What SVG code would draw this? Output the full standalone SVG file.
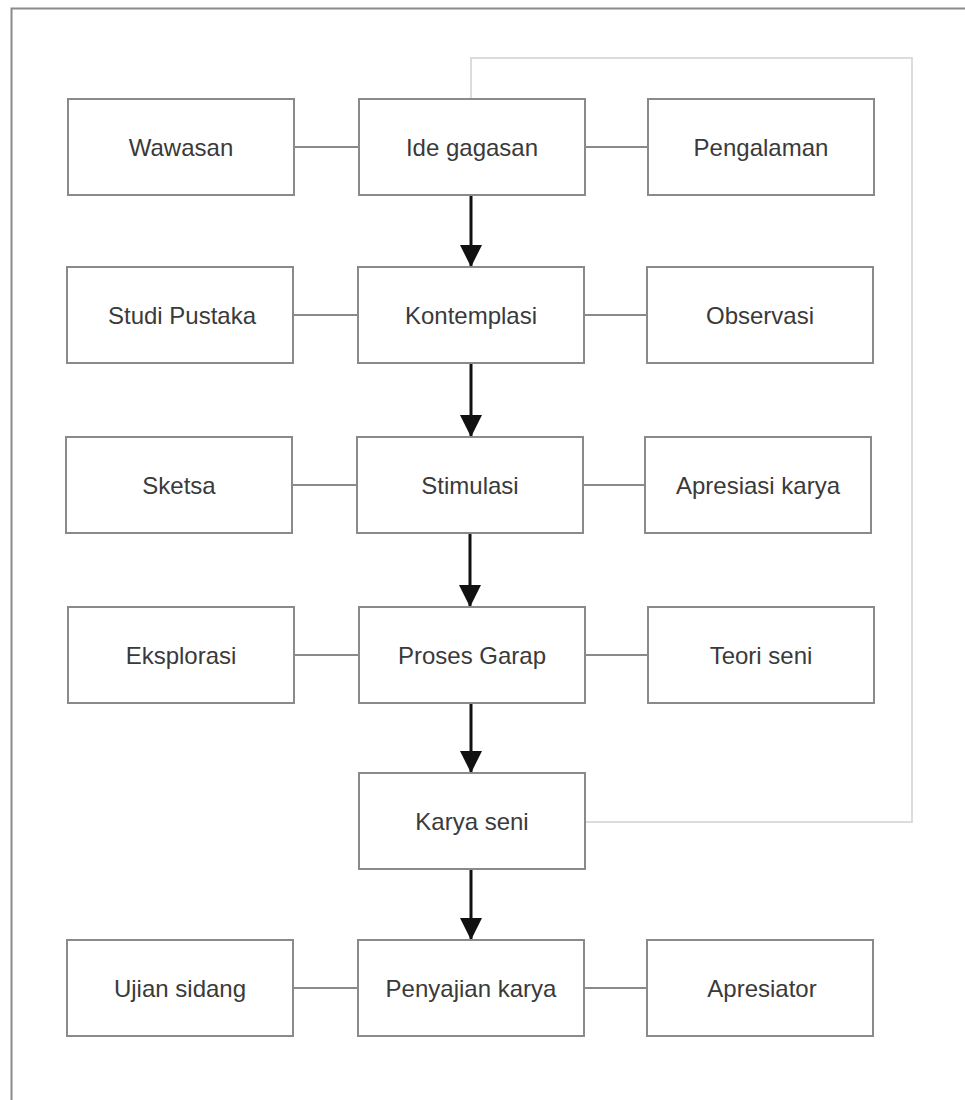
<svg xmlns="http://www.w3.org/2000/svg" width="965" height="1100" viewBox="0 0 965 1100">
<style>
.box{fill:#fff;stroke:#8a8a8a;stroke-width:2}
.lbl{font-family:"Liberation Sans",Arial,sans-serif;font-size:24px;fill:#3a3a3a;text-anchor:middle}
.link{stroke:#8a8a8a;stroke-width:2;fill:none}
.flow{stroke:#111;stroke-width:3;fill:none}
.fb{stroke:#dcdcdc;stroke-width:2;fill:none}
</style>
<defs>
<marker id="ah" markerUnits="userSpaceOnUse" markerWidth="24" markerHeight="22" refX="22" refY="11" orient="auto" viewBox="0 0 24 22">
<path d="M0,0 L22,11 L0,22 Z" fill="#111"/>
</marker>
</defs>
<rect width="965" height="1100" fill="#fff"/>
<path d="M11.5,1100 V8.5 H965" fill="none" stroke="#8a8a8a" stroke-width="2"/>
<g id="connectors">
<path class="fb" d="M471,99 V58 H912 V822 H585"/>
<line class="link" x1="294" y1="147" x2="359" y2="147"/>
<line class="link" x1="585" y1="147" x2="648" y2="147"/>
<line class="link" x1="293" y1="315" x2="358" y2="315"/>
<line class="link" x1="584" y1="315" x2="647" y2="315"/>
<line class="link" x1="292" y1="485" x2="357" y2="485"/>
<line class="link" x1="583" y1="485" x2="645" y2="485"/>
<line class="link" x1="294" y1="655" x2="359" y2="655"/>
<line class="link" x1="585" y1="655" x2="648" y2="655"/>
<line class="link" x1="293" y1="988" x2="358" y2="988"/>
<line class="link" x1="584" y1="988" x2="647" y2="988"/>
<line class="flow" x1="471" y1="195" x2="471" y2="267" marker-end="url(#ah)"/>
<line class="flow" x1="471" y1="363" x2="471" y2="437" marker-end="url(#ah)"/>
<line class="flow" x1="470" y1="533" x2="470" y2="607" marker-end="url(#ah)"/>
<line class="flow" x1="471" y1="703" x2="471" y2="773" marker-end="url(#ah)"/>
<line class="flow" x1="471" y1="869" x2="471" y2="940" marker-end="url(#ah)"/>
</g>
<g id="wawasan"><rect class="box" x="68" y="99" width="226" height="96"/><text class="lbl" x="181" y="156">Wawasan</text></g>
<g id="ide"><rect class="box" x="359" y="99" width="226" height="96"/><text class="lbl" x="472" y="156">Ide gagasan</text></g>
<g id="pengalaman"><rect class="box" x="648" y="99" width="226" height="96"/><text class="lbl" x="761" y="156">Pengalaman</text></g>
<g id="studi"><rect class="box" x="67" y="267" width="226" height="96"/><text class="lbl" x="182" y="324">Studi Pustaka</text></g>
<g id="kontemplasi"><rect class="box" x="358" y="267" width="226" height="96"/><text class="lbl" x="471" y="324">Kontemplasi</text></g>
<g id="observasi"><rect class="box" x="647" y="267" width="226" height="96"/><text class="lbl" x="760" y="324">Observasi</text></g>
<g id="sketsa"><rect class="box" x="66" y="437" width="226" height="96"/><text class="lbl" x="179" y="494">Sketsa</text></g>
<g id="stimulasi"><rect class="box" x="357" y="437" width="226" height="96"/><text class="lbl" x="470" y="494">Stimulasi</text></g>
<g id="apresiasi"><rect class="box" x="645" y="437" width="226" height="96"/><text class="lbl" x="758" y="494">Apresiasi karya</text></g>
<g id="eksplorasi"><rect class="box" x="68" y="607" width="226" height="96"/><text class="lbl" x="181" y="664">Eksplorasi</text></g>
<g id="proses"><rect class="box" x="359" y="607" width="226" height="96"/><text class="lbl" x="472" y="664">Proses Garap</text></g>
<g id="teori"><rect class="box" x="648" y="607" width="226" height="96"/><text class="lbl" x="761" y="664">Teori seni</text></g>
<g id="karya"><rect class="box" x="359" y="773" width="226" height="96"/><text class="lbl" x="472" y="830">Karya seni</text></g>
<g id="ujian"><rect class="box" x="67" y="940" width="226" height="96"/><text class="lbl" x="180" y="997">Ujian sidang</text></g>
<g id="penyajian"><rect class="box" x="358" y="940" width="226" height="96"/><text class="lbl" x="471" y="997">Penyajian karya</text></g>
<g id="apresiator"><rect class="box" x="647" y="940" width="226" height="96"/><text class="lbl" x="762" y="997">Apresiator</text></g>
</svg>
